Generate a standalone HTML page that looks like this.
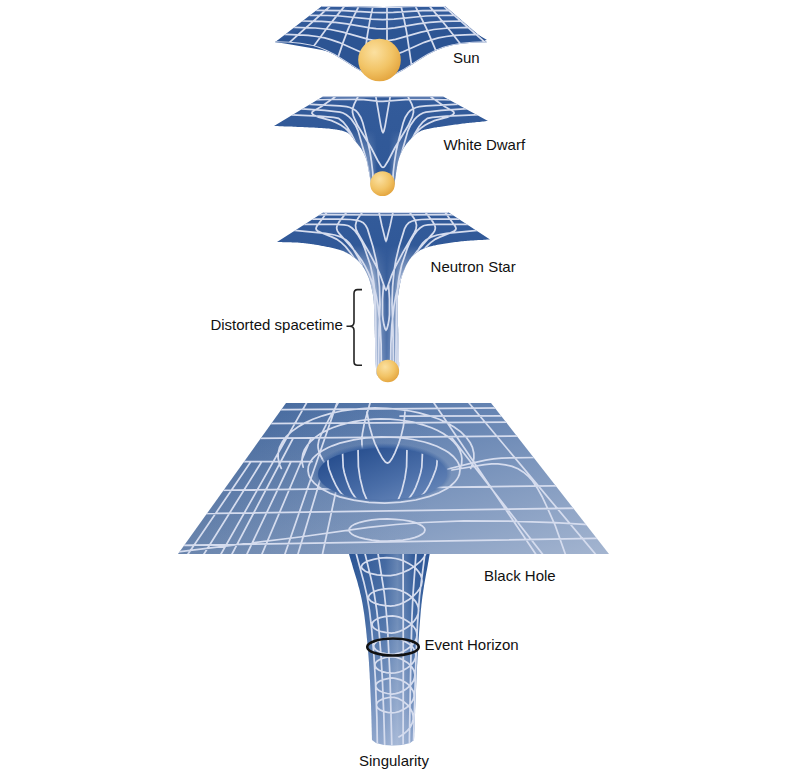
<!DOCTYPE html>
<html><head><meta charset="utf-8">
<style>
html,body{margin:0;padding:0;background:#fff;width:800px;height:780px;overflow:hidden}
svg{display:block}
text{font-family:"Liberation Sans",sans-serif;font-size:15px;fill:#111}
</style></head><body>
<svg width="800" height="780" viewBox="0 0 800 780">
<defs>
<radialGradient id="ball" cx="0.38" cy="0.32" r="0.7">
<stop offset="0" stop-color="#fbe0a0"/><stop offset="0.6" stop-color="#f2c466"/><stop offset="1" stop-color="#e4a640"/>
</radialGradient>
<clipPath id="cSun"><path d="M322,6 L275,42.2 L287.7,42.6 L300.4,43.7 L313.2,46.1 L321.6,48.8 L334.4,54.7 L355.5,68.1 L364,73 L372.5,76.4 L376.8,77.2 L381,77.6 L385.2,77.2 L389.5,76.4 L393.7,74.9 L402.2,70.7 L427.6,54.7 L436.1,50.5 L444.6,47.3 L453.1,45.1 L461.6,43.7 L474.3,42.6 L487,42.2 L445,6 L420.4,6.1 L383.5,7.1 L346.6,6.1 L322,6Z"/></clipPath>
<clipPath id="cWD"><path d="M323,96.5 L443,96.5 L488,121 L486.6,121.1 L485.2,121.3 L483.8,121.4 L482.4,121.6 L481,121.7 L479.7,121.9 L478.3,122 L476.9,122.1 L475.5,122.3 L474.1,122.4 L472.7,122.5 L471.3,122.7 L469.9,122.8 L468.5,123 L467.1,123.1 L465.7,123.3 L464.3,123.5 L462.9,123.6 L461.4,123.8 L460,124 L458.5,124.2 L457,124.4 L455.4,124.6 L453.8,124.8 L452.2,125 L450.6,125.3 L448.9,125.5 L447.3,125.7 L445.6,126 L444,126.2 L442.4,126.4 L440.8,126.7 L439.2,126.9 L437.7,127.1 L436.3,127.4 L434.9,127.6 L433.5,127.8 L432.3,128.1 L431.1,128.3 L430,128.5 L429,128.7 L428.1,128.9 L427.2,129.1 L426.4,129.3 L425.7,129.4 L425,129.6 L424.3,129.8 L423.8,129.9 L423.2,130.1 L422.7,130.2 L422.2,130.4 L421.7,130.6 L421.3,130.8 L420.8,131 L420.4,131.2 L419.9,131.4 L419.5,131.7 L419,131.9 L418.5,132.2 L418,132.5 L417.5,132.8 L417,133.2 L416.5,133.5 L416,133.9 L415.5,134.3 L415,134.7 L414.5,135.1 L414.1,135.6 L413.6,136 L413.2,136.4 L412.7,136.9 L412.3,137.3 L411.8,137.8 L411.4,138.3 L411,138.7 L410.6,139.2 L410.2,139.7 L409.8,140.1 L409.4,140.6 L409,141 L408.6,141.4 L408.2,141.9 L407.9,142.3 L407.5,142.8 L407.1,143.2 L406.8,143.6 L406.4,144.1 L406.1,144.5 L405.8,145 L405.4,145.4 L405.1,145.9 L404.8,146.3 L404.5,146.8 L404.2,147.2 L403.9,147.7 L403.6,148.1 L403.3,148.6 L403,149.1 L402.8,149.5 L402.5,150 L402.2,150.5 L402,151 L401.7,151.4 L401.5,151.9 L401.3,152.4 L401.1,152.9 L400.8,153.4 L400.6,153.9 L400.4,154.4 L400.2,154.9 L400,155.4 L399.8,156 L399.7,156.5 L399.5,157 L399.3,157.5 L399.1,158 L399,158.5 L398.8,159 L398.7,159.5 L398.5,160 L398.4,160.5 L398.2,161 L398.1,161.5 L398,162 L397.8,162.5 L397.7,163 L397.6,163.5 L397.5,164 L397.4,164.5 L397.3,165 L397.3,165.5 L397.2,166 L397.1,166.5 L397,167 L396.9,167.5 L396.8,168 L396.8,168.5 L396.7,169 L396.6,169.5 L396.5,170 L396.4,170.5 L396.3,171 L396.3,171.5 L396.2,172.1 L396.1,172.6 L396,173.1 L396,173.7 L395.9,174.2 L395.8,174.7 L395.8,175.2 L395.7,175.8 L395.6,176.3 L395.5,176.8 L395.5,177.3 L395.4,177.8 L395.3,178.3 L395.2,178.7 L395.2,179.2 L395.1,179.6 L395,180 L394.9,180.4 L394.9,180.8 L394.8,181.1 L394.8,181.5 L394.7,181.8 L394.7,182.2 L394.7,182.5 L394.6,182.8 L394.6,183.1 L394.6,183.4 L394.5,183.7 L394.4,183.9 L394.3,184.2 L394.2,184.5 L394.1,184.7 L394,185 L393.8,185.2 L393.5,185.5 L393.3,185.7 L393,186 L392.7,186.3 L392.3,186.5 L391.9,186.8 L391.4,187.1 L391,187.3 L390.5,187.6 L390,187.9 L389.4,188.1 L388.9,188.4 L388.3,188.6 L387.7,188.9 L387.1,189.1 L386.5,189.3 L385.9,189.5 L385.3,189.6 L384.7,189.7 L384.2,189.9 L383.6,189.9 L383,190 L382.5,190 L382,190 L381.4,189.9 L380.8,189.9 L380.3,189.7 L379.7,189.6 L379.1,189.5 L378.5,189.3 L377.9,189.1 L377.3,188.9 L376.7,188.6 L376.1,188.4 L375.6,188.1 L375,187.9 L374.5,187.6 L374,187.3 L373.5,187.1 L373.1,186.8 L372.7,186.5 L372.3,186.3 L372,186 L371.7,185.7 L371.5,185.5 L371.3,185.2 L371.1,185 L371,184.7 L370.9,184.5 L370.8,184.2 L370.8,183.9 L370.7,183.7 L370.7,183.4 L370.7,183.1 L370.7,182.8 L370.7,182.5 L370.7,182.2 L370.7,181.8 L370.7,181.5 L370.7,181.1 L370.6,180.8 L370.6,180.4 L370.5,180 L370.4,179.6 L370.3,179.2 L370.2,178.7 L370.1,178.3 L370,177.8 L369.9,177.3 L369.8,176.8 L369.7,176.3 L369.6,175.8 L369.5,175.2 L369.4,174.7 L369.3,174.2 L369.2,173.7 L369.1,173.1 L369,172.6 L368.9,172.1 L368.8,171.5 L368.7,171 L368.6,170.5 L368.5,170 L368.4,169.5 L368.3,169 L368.2,168.5 L368.1,168 L368.1,167.5 L368,167 L367.9,166.5 L367.8,166 L367.7,165.5 L367.7,165 L367.6,164.5 L367.5,164 L367.4,163.5 L367.3,163 L367.2,162.5 L367.1,162 L366.9,161.5 L366.8,161 L366.7,160.5 L366.5,160 L366.3,159.5 L366.2,159 L366,158.5 L365.8,158 L365.6,157.5 L365.4,157 L365.2,156.5 L365,156 L364.8,155.4 L364.6,154.9 L364.3,154.4 L364.1,153.9 L363.9,153.4 L363.6,152.9 L363.4,152.4 L363.1,151.9 L362.8,151.4 L362.6,151 L362.3,150.5 L362,150 L361.7,149.5 L361.4,149.1 L361.1,148.6 L360.8,148.1 L360.4,147.7 L360.1,147.2 L359.8,146.8 L359.4,146.3 L359.1,145.9 L358.7,145.4 L358.4,145 L358,144.5 L357.6,144.1 L357.3,143.6 L356.9,143.2 L356.5,142.8 L356.1,142.3 L355.8,141.9 L355.4,141.4 L355,141 L354.6,140.6 L354.3,140.1 L353.9,139.7 L353.6,139.2 L353.3,138.7 L353,138.3 L352.6,137.8 L352.3,137.3 L352,136.9 L351.6,136.4 L351.3,136 L350.9,135.5 L350.5,135.1 L350.1,134.7 L349.7,134.3 L349.2,133.9 L348.7,133.5 L348.2,133.2 L347.6,132.8 L347,132.5 L346.4,132.2 L345.7,131.9 L345.1,131.7 L344.4,131.4 L343.7,131.2 L343,131 L342.2,130.8 L341.5,130.6 L340.7,130.4 L339.9,130.2 L339,130 L338.2,129.9 L337.3,129.7 L336.3,129.6 L335.4,129.4 L334.4,129.3 L333.3,129.2 L332.3,129 L331.2,128.9 L330,128.8 L328.8,128.6 L327.5,128.5 L326.2,128.4 L324.8,128.3 L323.3,128.2 L321.8,128.1 L320.3,128 L318.7,127.9 L317.2,127.8 L315.6,127.7 L314,127.6 L312.3,127.5 L310.7,127.5 L309.1,127.4 L307.5,127.3 L306,127.3 L304.4,127.2 L302.9,127.1 L301.4,127.1 L300,127 L298.6,126.9 L297.2,126.9 L295.9,126.8 L294.5,126.8 L293.2,126.7 L291.9,126.6 L290.6,126.6 L289.3,126.5 L288,126.5 L286.8,126.5 L285.5,126.4 L284.2,126.4 L282.9,126.3 L281.7,126.3 L280.4,126.2 L279.1,126.2 L277.9,126.1 L276.6,126.1 L275.3,126 L274,126Z"/></clipPath>
<clipPath id="cNS"><path d="M324,212 L448,212 L490,239.4 L488.5,239.5 L487,239.6 L485.5,239.7 L484,239.8 L482.5,239.9 L481,239.9 L479.5,240 L478,240.1 L476.5,240.2 L475,240.3 L473.5,240.4 L472,240.5 L470.5,240.6 L469,240.7 L467.5,240.8 L466,240.9 L464.5,241 L463,241.2 L461.5,241.3 L460,241.5 L458.5,241.7 L456.9,241.9 L455.3,242.1 L453.7,242.3 L452.1,242.5 L450.5,242.7 L448.9,243 L447.2,243.2 L445.6,243.5 L444,243.7 L442.4,244 L440.8,244.3 L439.3,244.5 L437.8,244.8 L436.4,245.1 L435,245.4 L433.6,245.6 L432.4,245.9 L431.1,246.2 L430,246.5 L428.9,246.8 L427.9,247.1 L427,247.4 L426.1,247.7 L425.2,248 L424.4,248.3 L423.7,248.6 L423,248.9 L422.3,249.2 L421.6,249.5 L421,249.8 L420.4,250.1 L419.8,250.5 L419.3,250.8 L418.7,251.2 L418.2,251.5 L417.6,251.9 L417.1,252.2 L416.5,252.6 L416,253 L415.5,253.4 L414.9,253.8 L414.5,254.2 L414,254.6 L413.5,255 L413.1,255.4 L412.7,255.8 L412.3,256.2 L411.9,256.6 L411.5,257 L411.1,257.5 L410.8,257.9 L410.4,258.4 L410.1,258.9 L409.7,259.3 L409.4,259.8 L409,260.4 L408.7,260.9 L408.3,261.4 L408,262 L407.7,262.6 L407.3,263.2 L407,263.8 L406.6,264.5 L406.3,265.1 L406,265.8 L405.6,266.5 L405.3,267.2 L405,268 L404.7,268.7 L404.4,269.4 L404.1,270.2 L403.8,270.9 L403.5,271.6 L403.2,272.4 L403,273.1 L402.7,273.9 L402.5,274.6 L402.2,275.3 L402,276 L401.8,276.7 L401.6,277.4 L401.4,278.1 L401.2,278.8 L401,279.5 L400.8,280.2 L400.7,280.9 L400.5,281.6 L400.4,282.2 L400.2,282.9 L400.1,283.6 L399.9,284.3 L399.8,285 L399.7,285.7 L399.6,286.4 L399.5,287.1 L399.3,287.8 L399.2,288.6 L399.1,289.3 L399,290 L398.9,290.7 L398.8,291.4 L398.7,292 L398.6,292.6 L398.5,293.2 L398.4,293.8 L398.3,294.4 L398.2,295 L398.1,295.6 L398,296.2 L397.9,296.8 L397.8,297.5 L397.8,298.2 L397.7,299 L397.7,299.8 L397.6,300.7 L397.6,301.7 L397.5,302.7 L397.5,303.8 L397.5,305 L397.5,306.3 L397.5,307.7 L397.5,309.2 L397.5,310.8 L397.6,312.5 L397.6,314.3 L397.7,316 L397.7,317.9 L397.8,319.8 L397.9,321.7 L397.9,323.6 L398,325.5 L398.1,327.5 L398.2,329.4 L398.2,331.3 L398.3,333.1 L398.4,334.9 L398.4,336.7 L398.5,338.4 L398.5,340 L398.5,341.6 L398.6,343.2 L398.6,344.8 L398.7,346.4 L398.7,348 L398.8,349.5 L398.8,351.1 L398.9,352.7 L398.9,354.2 L398.9,355.7 L399,357.2 L399,358.6 L399,360 L399,361.3 L399.1,362.6 L399.1,363.8 L399.1,365 L399.1,366 L399,367.1 L399,368 L399,368.9 L398.9,369.6 L398.9,370.3 L398.9,370.9 L398.9,371.5 L398.8,372 L398.8,372.4 L398.7,372.8 L398.7,373.2 L398.6,373.5 L398.5,373.8 L398.5,374 L398.4,374.3 L398.2,374.5 L398.1,374.8 L397.9,375 L397.7,375.2 L397.5,375.5 L397.3,375.7 L397,376 L396.7,376.3 L396.4,376.6 L396,376.9 L395.6,377.2 L395.2,377.5 L394.7,377.7 L394.2,378 L393.7,378.3 L393.2,378.5 L392.7,378.8 L392.2,379 L391.7,379.2 L391.1,379.4 L390.6,379.5 L390.1,379.7 L389.5,379.8 L389,379.9 L388.5,379.9 L388,380 L387.5,380 L387,380 L386.5,379.9 L386,379.9 L385.5,379.8 L384.9,379.7 L384.4,379.5 L383.9,379.4 L383.3,379.2 L382.8,379 L382.3,378.8 L381.8,378.5 L381.3,378.3 L380.8,378 L380.3,377.7 L379.8,377.5 L379.4,377.2 L379,376.9 L378.6,376.6 L378.3,376.3 L378,376 L377.7,375.7 L377.5,375.5 L377.3,375.2 L377.1,375 L376.9,374.8 L376.8,374.5 L376.7,374.3 L376.6,374 L376.5,373.8 L376.5,373.5 L376.4,373.2 L376.4,372.8 L376.3,372.4 L376.3,372 L376.3,371.5 L376.2,370.9 L376.2,370.3 L376.1,369.6 L376.1,368.9 L376,368 L375.9,367.1 L375.9,366 L375.8,365 L375.7,363.8 L375.7,362.6 L375.6,361.3 L375.6,360 L375.5,358.6 L375.5,357.2 L375.4,355.7 L375.4,354.2 L375.4,352.7 L375.3,351.1 L375.3,349.5 L375.2,348 L375.2,346.4 L375.1,344.8 L375.1,343.2 L375,341.6 L375,340 L375,338.4 L374.9,336.7 L374.9,334.9 L374.8,333.1 L374.8,331.3 L374.7,329.4 L374.7,327.5 L374.6,325.5 L374.6,323.6 L374.6,321.7 L374.5,319.8 L374.5,317.9 L374.4,316 L374.4,314.3 L374.3,312.5 L374.3,310.8 L374.2,309.2 L374.1,307.7 L374.1,306.3 L374,305 L373.9,303.8 L373.8,302.7 L373.8,301.7 L373.7,300.7 L373.6,299.8 L373.5,299 L373.5,298.2 L373.4,297.5 L373.3,296.8 L373.2,296.2 L373.1,295.6 L373,295 L372.9,294.4 L372.8,293.8 L372.7,293.2 L372.5,292.6 L372.4,292 L372.3,291.4 L372.1,290.7 L372,290 L371.8,289.3 L371.7,288.6 L371.5,287.8 L371.4,287.1 L371.2,286.4 L371,285.7 L370.9,284.9 L370.7,284.2 L370.5,283.5 L370.3,282.8 L370.1,282.1 L369.9,281.4 L369.7,280.7 L369.5,280 L369.3,279.3 L369,278.7 L368.8,278 L368.5,277.3 L368.3,276.7 L368,276 L367.7,275.4 L367.4,274.7 L367.1,274.1 L366.8,273.4 L366.5,272.8 L366.2,272.1 L365.9,271.5 L365.5,270.9 L365.2,270.2 L364.8,269.6 L364.5,269 L364.1,268.4 L363.7,267.8 L363.3,267.2 L363,266.7 L362.6,266.1 L362.2,265.6 L361.8,265 L361.4,264.5 L361,264 L360.6,263.5 L360.2,263 L359.8,262.6 L359.4,262.1 L359,261.7 L358.5,261.2 L358.1,260.8 L357.7,260.4 L357.3,260 L356.8,259.6 L356.4,259.2 L355.9,258.9 L355.5,258.5 L355,258.1 L354.5,257.8 L354,257.4 L353.5,257.1 L353,256.7 L352.5,256.4 L352,256 L351.5,255.7 L351,255.3 L350.4,255 L349.9,254.6 L349.4,254.3 L348.9,254 L348.3,253.7 L347.8,253.4 L347.2,253.1 L346.7,252.8 L346.1,252.5 L345.5,252.2 L344.9,251.9 L344.3,251.6 L343.6,251.3 L343,251.1 L342.3,250.8 L341.5,250.5 L340.8,250.3 L340,250 L339.2,249.7 L338.3,249.5 L337.4,249.2 L336.5,249 L335.6,248.7 L334.6,248.5 L333.6,248.2 L332.6,248 L331.5,247.8 L330.5,247.5 L329.4,247.3 L328.4,247.1 L327.3,246.9 L326.3,246.7 L325.2,246.5 L324.1,246.3 L323.1,246.1 L322,245.9 L321,245.7 L320,245.5 L319,245.3 L318,245.1 L317,245 L316,244.8 L315.1,244.7 L314.1,244.5 L313.1,244.3 L312.1,244.2 L311.2,244.1 L310.2,243.9 L309.2,243.8 L308.2,243.7 L307.2,243.5 L306.2,243.4 L305.2,243.3 L304.2,243.2 L303.2,243.1 L302.1,243 L301.1,242.9 L300,242.8 L298.9,242.7 L297.8,242.6 L296.7,242.6 L295.6,242.5 L294.5,242.5 L293.3,242.4 L292.2,242.4 L291,242.3 L289.9,242.3 L288.7,242.3 L287.5,242.3 L286.3,242.2 L285.2,242.2 L284,242.2 L282.8,242.2 L281.6,242.1 L280.5,242.1 L279.3,242.1 L278.2,242 L277,242Z"/></clipPath>
<clipPath id="cTube"><path d="M349,554 L349.6,556.3 L350.3,558.6 L351,560.9 L351.7,563.1 L352.4,565.4 L353,567.7 L353.7,569.9 L354.4,572.2 L355.1,574.5 L355.8,576.8 L356.5,579 L357.2,581.3 L357.8,583.6 L358.4,585.9 L359.1,588.2 L359.7,590.5 L360.2,592.9 L360.8,595.2 L361.3,597.6 L361.8,600 L362.3,602.4 L362.7,604.8 L363.1,607.3 L363.5,609.7 L363.9,612.2 L364.3,614.7 L364.6,617.2 L364.9,619.7 L365.2,622.2 L365.5,624.8 L365.8,627.3 L366.1,629.8 L366.3,632.3 L366.6,634.9 L366.8,637.4 L367.1,639.9 L367.3,642.5 L367.5,645 L367.8,647.5 L368,650 L368.2,652.5 L368.4,655 L368.6,657.6 L368.8,660.2 L369,662.7 L369.1,665.3 L369.3,667.9 L369.4,670.5 L369.6,673.1 L369.7,675.6 L369.8,678.2 L370,680.7 L370.1,683.2 L370.2,685.7 L370.3,688.2 L370.4,690.6 L370.5,693 L370.6,695.4 L370.7,697.7 L370.8,700 L370.9,702.2 L371,704.4 L371.1,706.5 L371.1,708.6 L371.2,710.7 L371.3,712.7 L371.3,714.7 L371.4,716.7 L371.4,718.7 L371.5,720.6 L371.5,722.6 L371.6,724.5 L371.6,726.4 L371.7,728.3 L371.7,730.2 L371.8,732.2 L371.8,734.1 L371.9,736 L371.9,738 L372,740 L376,743 L384,745 L393,745.5 L402,745 L410,743 L414,740 L414.1,738 L414.2,736 L414.2,734.1 L414.3,732.2 L414.4,730.2 L414.5,728.3 L414.5,726.4 L414.6,724.5 L414.7,722.6 L414.8,720.6 L414.8,718.7 L414.9,716.7 L415,714.7 L415.1,712.7 L415.1,710.7 L415.2,708.6 L415.3,706.5 L415.4,704.4 L415.5,702.2 L415.6,700 L415.7,697.7 L415.8,695.4 L415.9,693 L416,690.6 L416.1,688.2 L416.2,685.7 L416.3,683.2 L416.4,680.7 L416.5,678.2 L416.6,675.6 L416.8,673.1 L416.9,670.5 L417,667.9 L417.1,665.3 L417.3,662.7 L417.4,660.2 L417.5,657.6 L417.7,655 L417.8,652.5 L418,650 L418.2,647.5 L418.3,645 L418.5,642.5 L418.6,639.9 L418.8,637.4 L419,634.9 L419.1,632.3 L419.3,629.8 L419.5,627.3 L419.7,624.8 L419.9,622.2 L420.1,619.7 L420.3,617.2 L420.5,614.7 L420.7,612.2 L420.9,609.7 L421.2,607.3 L421.4,604.8 L421.7,602.4 L422,600 L422.3,597.6 L422.6,595.2 L423,592.9 L423.3,590.5 L423.7,588.2 L424,585.9 L424.4,583.6 L424.8,581.3 L425.2,579 L425.6,576.8 L426,574.5 L426.4,572.2 L426.9,569.9 L427.3,567.7 L427.7,565.4 L428.1,563.1 L428.5,560.9 L428.9,558.6 L429.3,556.3 L429.7,554Z"/></clipPath>
<clipPath id="cBH"><path d="M286,403 L491,403 L609,554 L178,554 Z"/></clipPath>
<clipPath id="cHole"><path d="M318,474 A64.5,26 0 1,0 447,474 A64.5,26 0 1,0 318,474 Z"/></clipPath>
<linearGradient id="gSun" x1="0" y1="0" x2="0" y2="1"><stop offset="0" stop-color="#345c9b"/><stop offset="1" stop-color="#2b5393"/></linearGradient>
<linearGradient id="gWD" x1="0" y1="0" x2="0" y2="1"><stop offset="0" stop-color="#335b9a"/><stop offset="1" stop-color="#2f5796"/></linearGradient>
<linearGradient id="gNS" gradientUnits="userSpaceOnUse" x1="0" y1="212" x2="0" y2="380"><stop offset="0" stop-color="#335b9a"/><stop offset="0.5" stop-color="#2d5595"/><stop offset="1" stop-color="#4a6ea8"/></linearGradient>
<linearGradient id="gWDs" gradientUnits="userSpaceOnUse" x1="368" y1="0" x2="398" y2="0"><stop offset="0" stop-color="#dfe7f5" stop-opacity="0.6"/><stop offset="0.3" stop-color="#dfe7f5" stop-opacity="0"/><stop offset="0.7" stop-color="#dfe7f5" stop-opacity="0"/><stop offset="1" stop-color="#dfe7f5" stop-opacity="0.6"/></linearGradient>
<linearGradient id="gNSs" gradientUnits="userSpaceOnUse" x1="373.5" y1="0" x2="400" y2="0"><stop offset="0" stop-color="#eef2fa" stop-opacity="1"/><stop offset="0.22" stop-color="#eef2fa" stop-opacity="0.35"/><stop offset="0.5" stop-color="#eef2fa" stop-opacity="0.1"/><stop offset="0.78" stop-color="#eef2fa" stop-opacity="0.35"/><stop offset="1" stop-color="#eef2fa" stop-opacity="1"/></linearGradient>
<linearGradient id="gVfadeWD" gradientUnits="userSpaceOnUse" x1="0" y1="130" x2="0" y2="180"><stop offset="0" stop-color="#fff" stop-opacity="0"/><stop offset="1" stop-color="#fff" stop-opacity="1"/></linearGradient>
<mask id="mWD" maskUnits="userSpaceOnUse" x="0" y="0" width="800" height="780"><rect x="340" y="110" width="90" height="90" fill="url(#gVfadeWD)"/></mask>
<linearGradient id="gVfadeNS" gradientUnits="userSpaceOnUse" x1="0" y1="245" x2="0" y2="305"><stop offset="0" stop-color="#fff" stop-opacity="0"/><stop offset="1" stop-color="#fff" stop-opacity="1"/></linearGradient>
<mask id="mNS" maskUnits="userSpaceOnUse" x="0" y="0" width="800" height="780"><rect x="340" y="240" width="100" height="145" fill="url(#gVfadeNS)"/></mask>
<linearGradient id="gBH" x1="0" y1="0" x2="1" y2="1"><stop offset="0" stop-color="#3f66a0"/><stop offset="1" stop-color="#a4b5d0"/></linearGradient>
<linearGradient id="gTube" gradientUnits="userSpaceOnUse" x1="0" y1="554" x2="0" y2="750"><stop offset="0" stop-color="#2a5494"/><stop offset="0.35" stop-color="#3b64a0"/><stop offset="1" stop-color="#8aa2ca"/></linearGradient>
<linearGradient id="gTubeH" x1="0" y1="0" x2="1" y2="0"><stop offset="0" stop-color="#fff" stop-opacity="0"/><stop offset="0.45" stop-color="#fff" stop-opacity="0.12"/><stop offset="0.6" stop-color="#fff" stop-opacity="0.28"/><stop offset="0.8" stop-color="#fff" stop-opacity="0.05"/><stop offset="1" stop-color="#fff" stop-opacity="0"/></linearGradient>
<linearGradient id="gBH2" x1="0" y1="0" x2="1" y2="0"><stop offset="0" stop-color="#234" stop-opacity="0.10"/><stop offset="0.6" stop-color="#234" stop-opacity="0"/></linearGradient>
<radialGradient id="gRim" cx="0.5" cy="0.5" r="0.5"><stop offset="0.85" stop-color="#3b62a0"/><stop offset="1" stop-color="#3b62a0" stop-opacity="0"/></radialGradient>
<linearGradient id="gHole" x1="0" y1="0" x2="1" y2="1"><stop offset="0" stop-color="#1d4587"/><stop offset="0.6" stop-color="#4a6ea8"/><stop offset="1" stop-color="#6f8dbd"/></linearGradient>
</defs>
<path d="M322,6 L275,42.2 L287.7,42.6 L300.4,43.7 L313.2,46.1 L321.6,48.8 L334.4,54.7 L355.5,68.1 L364,73 L372.5,76.4 L376.8,77.2 L381,77.6 L385.2,77.2 L389.5,76.4 L393.7,74.9 L402.2,70.7 L427.6,54.7 L436.1,50.5 L444.6,47.3 L453.1,45.1 L461.6,43.7 L474.3,42.6 L487,42.2 L445,6 L420.4,6.1 L383.5,7.1 L346.6,6.1 L322,6Z" fill="url(#gSun)"/>
<path d="M275,42 C290,44 305,47 322,50 C335,53 343,58 349,63 C353,67 356,69 360,69 L380,66 L400,69 C404,69 407,67 411,63 C418,57 430,50 445,46 C460,42 475,41 487,40 L470,30 L300,30 Z" fill="#2c5493"/>
<path d="M264.9,42.1 L316.1,6M289.3,42.7 L330.3,6M313.7,46.2 L328.5,26.1 L344.5,6.1M338.2,56.9 L343.1,42.4 L347.9,29.6 L353,17.9 L358.7,6.5M362.6,72.2 L365.1,51.5 L367.5,34.4 L370,19.9 L372.8,6.9M387,76.9 L387,7.1M411.5,64.9 L406.6,32.1 L404,19 L401.2,6.7M435.9,50.6 L426.1,27.6 L415.4,6.3M460.3,43.8 L445.6,25.3 L429.5,6.1M484.8,42.2 L443.7,6M322,6 L347.3,6.2 L383.3,7.1 L419.7,6.2 L445,6M316.4,10.3 L343.8,10.7 L373,12.3 L383,12.6 L393.4,12.3 L422.6,10.7 L450,10.3M309.8,15.3 L327.4,15.5 L339.8,16 L371.7,19.1 L382.7,19.6 L394,19.1 L425.9,16 L438.3,15.5 L455.9,15.3M302.4,21 L321.7,21.4 L335.3,22.3 L347,23.8 L370.2,27.9 L376.2,28.6 L382.3,28.8 L388.3,28.6 L394.7,27.9 L418,23.8 L429.6,22.3 L443.2,21.4 L462.5,21M294.2,27.4 L315.3,28 L330.3,29.5 L343,32.2 L368.6,39.4 L375.2,40.5 L381.8,41 L388.4,40.6 L395.5,39.4 L421,32.2 L433.8,29.5 L448.7,28 L469.9,27.4M285,34.4 L298.1,34.8 L308.2,35.4 L316.9,36.5 L324.7,37.9 L331.5,39.8 L338.7,42.3 L360,51.7 L366.8,54.3 L374,56.2 L381.3,56.9 L388.5,56.3 L396.3,54.3 L403.1,51.7 L424.3,42.3 L431.6,39.8 L438.4,37.9 L446.1,36.5 L454.8,35.4 L465,34.8 L478,34.4M275,42.2 L289.3,42.7 L300.5,43.7 L310.1,45.3 L318.6,47.7 L326.5,50.8 L334.5,54.8 L341.4,58.9 L357.4,69.2 L364.8,73.4 L372.8,76.4 L377,77.3 L380.7,77.5 L384.5,77.3 L388.7,76.5 L392.4,75.4 L396.7,73.6 L404.6,69.2 L420.6,58.9 L428,54.5 L436,50.5 L443.4,47.7 L451.9,45.3 L461.5,43.7 L472.7,42.7 L487,42.2" fill="none" stroke="#d5dcee" stroke-width="1.75" stroke-linecap="round" clip-path="url(#cSun)"/>
<circle cx="379.5" cy="60" r="21.3" fill="url(#ball)"/>
<text x="453" y="63">Sun</text>
<path d="M323,96.5 L443,96.5 L488,121 L486.6,121.1 L485.2,121.3 L483.8,121.4 L482.4,121.6 L481,121.7 L479.7,121.9 L478.3,122 L476.9,122.1 L475.5,122.3 L474.1,122.4 L472.7,122.5 L471.3,122.7 L469.9,122.8 L468.5,123 L467.1,123.1 L465.7,123.3 L464.3,123.5 L462.9,123.6 L461.4,123.8 L460,124 L458.5,124.2 L457,124.4 L455.4,124.6 L453.8,124.8 L452.2,125 L450.6,125.3 L448.9,125.5 L447.3,125.7 L445.6,126 L444,126.2 L442.4,126.4 L440.8,126.7 L439.2,126.9 L437.7,127.1 L436.3,127.4 L434.9,127.6 L433.5,127.8 L432.3,128.1 L431.1,128.3 L430,128.5 L429,128.7 L428.1,128.9 L427.2,129.1 L426.4,129.3 L425.7,129.4 L425,129.6 L424.3,129.8 L423.8,129.9 L423.2,130.1 L422.7,130.2 L422.2,130.4 L421.7,130.6 L421.3,130.8 L420.8,131 L420.4,131.2 L419.9,131.4 L419.5,131.7 L419,131.9 L418.5,132.2 L418,132.5 L417.5,132.8 L417,133.2 L416.5,133.5 L416,133.9 L415.5,134.3 L415,134.7 L414.5,135.1 L414.1,135.6 L413.6,136 L413.2,136.4 L412.7,136.9 L412.3,137.3 L411.8,137.8 L411.4,138.3 L411,138.7 L410.6,139.2 L410.2,139.7 L409.8,140.1 L409.4,140.6 L409,141 L408.6,141.4 L408.2,141.9 L407.9,142.3 L407.5,142.8 L407.1,143.2 L406.8,143.6 L406.4,144.1 L406.1,144.5 L405.8,145 L405.4,145.4 L405.1,145.9 L404.8,146.3 L404.5,146.8 L404.2,147.2 L403.9,147.7 L403.6,148.1 L403.3,148.6 L403,149.1 L402.8,149.5 L402.5,150 L402.2,150.5 L402,151 L401.7,151.4 L401.5,151.9 L401.3,152.4 L401.1,152.9 L400.8,153.4 L400.6,153.9 L400.4,154.4 L400.2,154.9 L400,155.4 L399.8,156 L399.7,156.5 L399.5,157 L399.3,157.5 L399.1,158 L399,158.5 L398.8,159 L398.7,159.5 L398.5,160 L398.4,160.5 L398.2,161 L398.1,161.5 L398,162 L397.8,162.5 L397.7,163 L397.6,163.5 L397.5,164 L397.4,164.5 L397.3,165 L397.3,165.5 L397.2,166 L397.1,166.5 L397,167 L396.9,167.5 L396.8,168 L396.8,168.5 L396.7,169 L396.6,169.5 L396.5,170 L396.4,170.5 L396.3,171 L396.3,171.5 L396.2,172.1 L396.1,172.6 L396,173.1 L396,173.7 L395.9,174.2 L395.8,174.7 L395.8,175.2 L395.7,175.8 L395.6,176.3 L395.5,176.8 L395.5,177.3 L395.4,177.8 L395.3,178.3 L395.2,178.7 L395.2,179.2 L395.1,179.6 L395,180 L394.9,180.4 L394.9,180.8 L394.8,181.1 L394.8,181.5 L394.7,181.8 L394.7,182.2 L394.7,182.5 L394.6,182.8 L394.6,183.1 L394.6,183.4 L394.5,183.7 L394.4,183.9 L394.3,184.2 L394.2,184.5 L394.1,184.7 L394,185 L393.8,185.2 L393.5,185.5 L393.3,185.7 L393,186 L392.7,186.3 L392.3,186.5 L391.9,186.8 L391.4,187.1 L391,187.3 L390.5,187.6 L390,187.9 L389.4,188.1 L388.9,188.4 L388.3,188.6 L387.7,188.9 L387.1,189.1 L386.5,189.3 L385.9,189.5 L385.3,189.6 L384.7,189.7 L384.2,189.9 L383.6,189.9 L383,190 L382.5,190 L382,190 L381.4,189.9 L380.8,189.9 L380.3,189.7 L379.7,189.6 L379.1,189.5 L378.5,189.3 L377.9,189.1 L377.3,188.9 L376.7,188.6 L376.1,188.4 L375.6,188.1 L375,187.9 L374.5,187.6 L374,187.3 L373.5,187.1 L373.1,186.8 L372.7,186.5 L372.3,186.3 L372,186 L371.7,185.7 L371.5,185.5 L371.3,185.2 L371.1,185 L371,184.7 L370.9,184.5 L370.8,184.2 L370.8,183.9 L370.7,183.7 L370.7,183.4 L370.7,183.1 L370.7,182.8 L370.7,182.5 L370.7,182.2 L370.7,181.8 L370.7,181.5 L370.7,181.1 L370.6,180.8 L370.6,180.4 L370.5,180 L370.4,179.6 L370.3,179.2 L370.2,178.7 L370.1,178.3 L370,177.8 L369.9,177.3 L369.8,176.8 L369.7,176.3 L369.6,175.8 L369.5,175.2 L369.4,174.7 L369.3,174.2 L369.2,173.7 L369.1,173.1 L369,172.6 L368.9,172.1 L368.8,171.5 L368.7,171 L368.6,170.5 L368.5,170 L368.4,169.5 L368.3,169 L368.2,168.5 L368.1,168 L368.1,167.5 L368,167 L367.9,166.5 L367.8,166 L367.7,165.5 L367.7,165 L367.6,164.5 L367.5,164 L367.4,163.5 L367.3,163 L367.2,162.5 L367.1,162 L366.9,161.5 L366.8,161 L366.7,160.5 L366.5,160 L366.3,159.5 L366.2,159 L366,158.5 L365.8,158 L365.6,157.5 L365.4,157 L365.2,156.5 L365,156 L364.8,155.4 L364.6,154.9 L364.3,154.4 L364.1,153.9 L363.9,153.4 L363.6,152.9 L363.4,152.4 L363.1,151.9 L362.8,151.4 L362.6,151 L362.3,150.5 L362,150 L361.7,149.5 L361.4,149.1 L361.1,148.6 L360.8,148.1 L360.4,147.7 L360.1,147.2 L359.8,146.8 L359.4,146.3 L359.1,145.9 L358.7,145.4 L358.4,145 L358,144.5 L357.6,144.1 L357.3,143.6 L356.9,143.2 L356.5,142.8 L356.1,142.3 L355.8,141.9 L355.4,141.4 L355,141 L354.6,140.6 L354.3,140.1 L353.9,139.7 L353.6,139.2 L353.3,138.7 L353,138.3 L352.6,137.8 L352.3,137.3 L352,136.9 L351.6,136.4 L351.3,136 L350.9,135.5 L350.5,135.1 L350.1,134.7 L349.7,134.3 L349.2,133.9 L348.7,133.5 L348.2,133.2 L347.6,132.8 L347,132.5 L346.4,132.2 L345.7,131.9 L345.1,131.7 L344.4,131.4 L343.7,131.2 L343,131 L342.2,130.8 L341.5,130.6 L340.7,130.4 L339.9,130.2 L339,130 L338.2,129.9 L337.3,129.7 L336.3,129.6 L335.4,129.4 L334.4,129.3 L333.3,129.2 L332.3,129 L331.2,128.9 L330,128.8 L328.8,128.6 L327.5,128.5 L326.2,128.4 L324.8,128.3 L323.3,128.2 L321.8,128.1 L320.3,128 L318.7,127.9 L317.2,127.8 L315.6,127.7 L314,127.6 L312.3,127.5 L310.7,127.5 L309.1,127.4 L307.5,127.3 L306,127.3 L304.4,127.2 L302.9,127.1 L301.4,127.1 L300,127 L298.6,126.9 L297.2,126.9 L295.9,126.8 L294.5,126.8 L293.2,126.7 L291.9,126.6 L290.6,126.6 L289.3,126.5 L288,126.5 L286.8,126.5 L285.5,126.4 L284.2,126.4 L282.9,126.3 L281.7,126.3 L280.4,126.2 L279.1,126.2 L277.9,126.1 L276.6,126.1 L275.3,126 L274,126Z" fill="url(#gWD)"/>
<g clip-path="url(#cWD)"><rect x="340" y="110" width="90" height="90" fill="url(#gWDs)" mask="url(#mWD)"/></g>
<path d="M310,100 L328.8,99.5 L355.8,99.4 L363.8,99.7 L377.4,101.1 L383,101.3 L408.8,99.4 L437.1,99.5 L452,100M375.8,96.4 L380.9,126.1 L382.2,131.3 L383,132.5 L383.8,131.3 L385.1,126.1 L390.2,96.4M358.2,96.4 L354.2,104.2 L352.6,109 L352.5,112.2 L353.6,116.7 L358,126 L371.3,148 L377.7,160.5 L381.1,166 L382,167 L383,167.3 L384,167 L384.9,166 L388.3,160.5 L394.7,148 L408,126 L412.4,116.7 L413.5,112.2 L413.4,109 L411.8,104.2 L407.8,96.4M306,104.2 L339.8,105.9 L346.7,106.7 L350,107.5 L353.3,108.9 L355.9,110.7 L358,113 L360.8,117.5 L362.8,122.8 L367.3,139.9 L369.8,151 L371.4,161 L372.7,172 L374,195M460,104.2 L426.2,105.9 L419.3,106.7 L416,107.5 L412.7,108.9 L410.1,110.7 L408,113 L405.2,117.5 L403.2,122.8 L398.7,139.9 L396.2,151 L394.6,161 L393.3,172 L392,195M298,108.7 L324.7,110.4 L340.1,112.1 L343.1,113 L346.3,114.8 L349.3,117.1 L351.5,119.4 L355.5,125.2 L358.1,130.8 L365.7,157.7 L368.6,171.7 L371.5,195M468,108.7 L441.3,110.4 L425.9,112.1 L422.9,113 L419.7,114.8 L416.7,117.1 L414.5,119.4 L410.5,125.2 L407.9,130.8 L400.3,157.7 L397.4,171.7 L394.5,195M286,114.7 L319.2,116.2 L333.6,117.4 L338.5,118.4 L343.1,122 L347.2,127 L351.5,134.2 L354.6,140.6 L358.6,150.9 L363,164 L365.8,174 L367.1,181 L369,195M480,114.7 L446.8,116.2 L432.4,117.4 L427.5,118.4 L422.9,122 L418.8,127 L414.5,134.2 L411.4,140.6 L407.4,150.9 L403,164 L400.2,174 L398.9,181 L397,195M336,96.4 L321.4,106.4 L313.3,111.1 L312.1,112.2 L312,113.5 L313.7,115.1 L318.6,117.2 L331.6,120.7 L337.3,123.2 L341.1,125.3 L344.6,127.7 L347.8,130.7 L350.1,133.5 L352.6,137.6 L355.3,143.2 L359.1,152.8 L361.6,160.5 L364.7,173.5 L368,195M430,96.4 L444.6,106.4 L452.7,111.1 L453.9,112.2 L454,113.5 L452.3,115.1 L447.4,117.2 L434.4,120.7 L428.7,123.2 L424.9,125.3 L421.4,127.7 L418.2,130.7 L415.9,133.5 L413.4,137.6 L410.7,143.2 L406.9,152.8 L404.4,160.5 L401.3,173.5 L398,195M307,96.4 L443,96.4" fill="none" stroke="#d5dcee" stroke-width="1.75" stroke-linecap="round" clip-path="url(#cWD)"/>
<circle cx="382.5" cy="183.7" r="12.4" fill="url(#ball)"/>
<text x="443.4" y="150.4">White Dwarf</text>
<path d="M324,212 L448,212 L490,239.4 L488.5,239.5 L487,239.6 L485.5,239.7 L484,239.8 L482.5,239.9 L481,239.9 L479.5,240 L478,240.1 L476.5,240.2 L475,240.3 L473.5,240.4 L472,240.5 L470.5,240.6 L469,240.7 L467.5,240.8 L466,240.9 L464.5,241 L463,241.2 L461.5,241.3 L460,241.5 L458.5,241.7 L456.9,241.9 L455.3,242.1 L453.7,242.3 L452.1,242.5 L450.5,242.7 L448.9,243 L447.2,243.2 L445.6,243.5 L444,243.7 L442.4,244 L440.8,244.3 L439.3,244.5 L437.8,244.8 L436.4,245.1 L435,245.4 L433.6,245.6 L432.4,245.9 L431.1,246.2 L430,246.5 L428.9,246.8 L427.9,247.1 L427,247.4 L426.1,247.7 L425.2,248 L424.4,248.3 L423.7,248.6 L423,248.9 L422.3,249.2 L421.6,249.5 L421,249.8 L420.4,250.1 L419.8,250.5 L419.3,250.8 L418.7,251.2 L418.2,251.5 L417.6,251.9 L417.1,252.2 L416.5,252.6 L416,253 L415.5,253.4 L414.9,253.8 L414.5,254.2 L414,254.6 L413.5,255 L413.1,255.4 L412.7,255.8 L412.3,256.2 L411.9,256.6 L411.5,257 L411.1,257.5 L410.8,257.9 L410.4,258.4 L410.1,258.9 L409.7,259.3 L409.4,259.8 L409,260.4 L408.7,260.9 L408.3,261.4 L408,262 L407.7,262.6 L407.3,263.2 L407,263.8 L406.6,264.5 L406.3,265.1 L406,265.8 L405.6,266.5 L405.3,267.2 L405,268 L404.7,268.7 L404.4,269.4 L404.1,270.2 L403.8,270.9 L403.5,271.6 L403.2,272.4 L403,273.1 L402.7,273.9 L402.5,274.6 L402.2,275.3 L402,276 L401.8,276.7 L401.6,277.4 L401.4,278.1 L401.2,278.8 L401,279.5 L400.8,280.2 L400.7,280.9 L400.5,281.6 L400.4,282.2 L400.2,282.9 L400.1,283.6 L399.9,284.3 L399.8,285 L399.7,285.7 L399.6,286.4 L399.5,287.1 L399.3,287.8 L399.2,288.6 L399.1,289.3 L399,290 L398.9,290.7 L398.8,291.4 L398.7,292 L398.6,292.6 L398.5,293.2 L398.4,293.8 L398.3,294.4 L398.2,295 L398.1,295.6 L398,296.2 L397.9,296.8 L397.8,297.5 L397.8,298.2 L397.7,299 L397.7,299.8 L397.6,300.7 L397.6,301.7 L397.5,302.7 L397.5,303.8 L397.5,305 L397.5,306.3 L397.5,307.7 L397.5,309.2 L397.5,310.8 L397.6,312.5 L397.6,314.3 L397.7,316 L397.7,317.9 L397.8,319.8 L397.9,321.7 L397.9,323.6 L398,325.5 L398.1,327.5 L398.2,329.4 L398.2,331.3 L398.3,333.1 L398.4,334.9 L398.4,336.7 L398.5,338.4 L398.5,340 L398.5,341.6 L398.6,343.2 L398.6,344.8 L398.7,346.4 L398.7,348 L398.8,349.5 L398.8,351.1 L398.9,352.7 L398.9,354.2 L398.9,355.7 L399,357.2 L399,358.6 L399,360 L399,361.3 L399.1,362.6 L399.1,363.8 L399.1,365 L399.1,366 L399,367.1 L399,368 L399,368.9 L398.9,369.6 L398.9,370.3 L398.9,370.9 L398.9,371.5 L398.8,372 L398.8,372.4 L398.7,372.8 L398.7,373.2 L398.6,373.5 L398.5,373.8 L398.5,374 L398.4,374.3 L398.2,374.5 L398.1,374.8 L397.9,375 L397.7,375.2 L397.5,375.5 L397.3,375.7 L397,376 L396.7,376.3 L396.4,376.6 L396,376.9 L395.6,377.2 L395.2,377.5 L394.7,377.7 L394.2,378 L393.7,378.3 L393.2,378.5 L392.7,378.8 L392.2,379 L391.7,379.2 L391.1,379.4 L390.6,379.5 L390.1,379.7 L389.5,379.8 L389,379.9 L388.5,379.9 L388,380 L387.5,380 L387,380 L386.5,379.9 L386,379.9 L385.5,379.8 L384.9,379.7 L384.4,379.5 L383.9,379.4 L383.3,379.2 L382.8,379 L382.3,378.8 L381.8,378.5 L381.3,378.3 L380.8,378 L380.3,377.7 L379.8,377.5 L379.4,377.2 L379,376.9 L378.6,376.6 L378.3,376.3 L378,376 L377.7,375.7 L377.5,375.5 L377.3,375.2 L377.1,375 L376.9,374.8 L376.8,374.5 L376.7,374.3 L376.6,374 L376.5,373.8 L376.5,373.5 L376.4,373.2 L376.4,372.8 L376.3,372.4 L376.3,372 L376.3,371.5 L376.2,370.9 L376.2,370.3 L376.1,369.6 L376.1,368.9 L376,368 L375.9,367.1 L375.9,366 L375.8,365 L375.7,363.8 L375.7,362.6 L375.6,361.3 L375.6,360 L375.5,358.6 L375.5,357.2 L375.4,355.7 L375.4,354.2 L375.4,352.7 L375.3,351.1 L375.3,349.5 L375.2,348 L375.2,346.4 L375.1,344.8 L375.1,343.2 L375,341.6 L375,340 L375,338.4 L374.9,336.7 L374.9,334.9 L374.8,333.1 L374.8,331.3 L374.7,329.4 L374.7,327.5 L374.6,325.5 L374.6,323.6 L374.6,321.7 L374.5,319.8 L374.5,317.9 L374.4,316 L374.4,314.3 L374.3,312.5 L374.3,310.8 L374.2,309.2 L374.1,307.7 L374.1,306.3 L374,305 L373.9,303.8 L373.8,302.7 L373.8,301.7 L373.7,300.7 L373.6,299.8 L373.5,299 L373.5,298.2 L373.4,297.5 L373.3,296.8 L373.2,296.2 L373.1,295.6 L373,295 L372.9,294.4 L372.8,293.8 L372.7,293.2 L372.5,292.6 L372.4,292 L372.3,291.4 L372.1,290.7 L372,290 L371.8,289.3 L371.7,288.6 L371.5,287.8 L371.4,287.1 L371.2,286.4 L371,285.7 L370.9,284.9 L370.7,284.2 L370.5,283.5 L370.3,282.8 L370.1,282.1 L369.9,281.4 L369.7,280.7 L369.5,280 L369.3,279.3 L369,278.7 L368.8,278 L368.5,277.3 L368.3,276.7 L368,276 L367.7,275.4 L367.4,274.7 L367.1,274.1 L366.8,273.4 L366.5,272.8 L366.2,272.1 L365.9,271.5 L365.5,270.9 L365.2,270.2 L364.8,269.6 L364.5,269 L364.1,268.4 L363.7,267.8 L363.3,267.2 L363,266.7 L362.6,266.1 L362.2,265.6 L361.8,265 L361.4,264.5 L361,264 L360.6,263.5 L360.2,263 L359.8,262.6 L359.4,262.1 L359,261.7 L358.5,261.2 L358.1,260.8 L357.7,260.4 L357.3,260 L356.8,259.6 L356.4,259.2 L355.9,258.9 L355.5,258.5 L355,258.1 L354.5,257.8 L354,257.4 L353.5,257.1 L353,256.7 L352.5,256.4 L352,256 L351.5,255.7 L351,255.3 L350.4,255 L349.9,254.6 L349.4,254.3 L348.9,254 L348.3,253.7 L347.8,253.4 L347.2,253.1 L346.7,252.8 L346.1,252.5 L345.5,252.2 L344.9,251.9 L344.3,251.6 L343.6,251.3 L343,251.1 L342.3,250.8 L341.5,250.5 L340.8,250.3 L340,250 L339.2,249.7 L338.3,249.5 L337.4,249.2 L336.5,249 L335.6,248.7 L334.6,248.5 L333.6,248.2 L332.6,248 L331.5,247.8 L330.5,247.5 L329.4,247.3 L328.4,247.1 L327.3,246.9 L326.3,246.7 L325.2,246.5 L324.1,246.3 L323.1,246.1 L322,245.9 L321,245.7 L320,245.5 L319,245.3 L318,245.1 L317,245 L316,244.8 L315.1,244.7 L314.1,244.5 L313.1,244.3 L312.1,244.2 L311.2,244.1 L310.2,243.9 L309.2,243.8 L308.2,243.7 L307.2,243.5 L306.2,243.4 L305.2,243.3 L304.2,243.2 L303.2,243.1 L302.1,243 L301.1,242.9 L300,242.8 L298.9,242.7 L297.8,242.6 L296.7,242.6 L295.6,242.5 L294.5,242.5 L293.3,242.4 L292.2,242.4 L291,242.3 L289.9,242.3 L288.7,242.3 L287.5,242.3 L286.3,242.2 L285.2,242.2 L284,242.2 L282.8,242.2 L281.6,242.1 L280.5,242.1 L279.3,242.1 L278.2,242 L277,242Z" fill="url(#gNS)"/>
<g clip-path="url(#cNS)"><rect x="340" y="240" width="100" height="145" fill="url(#gNSs)" mask="url(#mNS)"/></g>
<path d="M315,214.7 L386,215 L456,214.7M379,212.3 L381.8,225.4 L385.4,239.9 L386,241 L386.6,239.9 L390.2,225.4 L393,212.3M362.5,212.3 L358.2,218 L356.5,221 L355.5,225.2 L356,229 L357.5,232.4 L369.2,252.7 L376.5,266.7 L380.4,275.4 L385.2,289 L386,290 L386.8,289 L391.6,275.4 L395.5,266.7 L402.8,252.7 L414.5,232.4 L416,229 L416.5,225.2 L415.5,221 L413.8,218 L409.5,212.3M383.5,284 L382.5,299.2 L382.5,314.8 L383,319.6 L384,325.1 L385.1,328.8 L386,330 L386.9,328.8 L388,325.1 L389,319.6 L389.5,314.8 L389.5,299.2 L388.5,284M346.7,212.3 L339.3,221.6 L337,226 L336.7,227.5 L336.8,229.1 L337.4,230.9 L338.9,233.2 L354.8,251 L361.8,260.6 L365.2,266.4 L368,272 L371.9,281.3 L374.3,288.3 L376.3,296.5 L378,305.8 L380.2,325.8 L381.1,343.9 L381.5,380M425.3,212.3 L432.7,221.6 L435,226 L435.3,227.5 L435.2,229.1 L434.6,230.9 L433.1,233.2 L417.2,251 L410.2,260.6 L406.8,266.4 L404,272 L400.1,281.3 L397.7,288.3 L395.7,296.5 L394,305.8 L391.8,325.8 L390.9,343.9 L390.5,380M310,219.2 L338.8,219.2 L350.4,219.5 L356,220.1 L360.3,221.2 L363.2,222.7 L365.7,225.5 L367.5,228.9 L372.9,246.6 L376.2,260.4 L377.9,270.9 L379.4,286.7 L380,304.2 L379,330 L378.5,380M462,219.2 L433.2,219.2 L421.6,219.5 L416,220.1 L411.7,221.2 L408.8,222.7 L406.3,225.5 L404.5,228.9 L399.1,246.6 L395.8,260.4 L394.1,270.9 L392.6,286.7 L392,304.2 L393,330 L393.5,380M302,224.3 L335.7,224.3 L344.1,224.9 L347.8,225.5 L349.4,226.2 L352,228 L355,230.9 L358.2,235.2 L362.1,242.1 L364.8,248.7 L370.4,265.2 L372.9,277 L374,284.5 L374.8,295 L375.3,309.2 L376.5,380M470,224.3 L436.3,224.3 L427.9,224.9 L424.2,225.5 L422.6,226.2 L420,228 L417,230.9 L413.8,235.2 L409.9,242.1 L407.2,248.7 L401.6,265.2 L399.1,277 L398,284.5 L397.2,295 L396.7,309.2 L395.5,380M292,230.2 L325.5,233.3 L334.7,235 L340.5,236.8 L346,240 L349.3,243.1 L351.9,246.8 L358.3,257.6 L361.7,265.1 L365.4,277.6 L368,290 L370.8,308.4 L372.4,323.3 L373.4,337 L374.5,380M480,230.2 L446.5,233.3 L437.3,235 L431.5,236.8 L426,240 L422.7,243.1 L420.1,246.8 L413.7,257.6 L410.3,265.1 L406.6,277.6 L404,290 L401.2,308.4 L399.6,323.3 L398.6,337 L397.5,380M327,212.3 L316.7,226.5 L316,228.4 L316.3,229.7 L317.8,231 L322.6,233.3 L332.3,237.1 L336.5,239.1 L341.4,242.6 L345.6,246.7 L351,253.4 L355.7,261 L360.9,272.7 L364.1,281.9 L366,290 L368.2,302.3 L371.1,325.5 L372.2,344.3 L373,380M445,212.3 L455.3,226.5 L456,228.4 L455.7,229.7 L454.2,231 L449.4,233.3 L439.7,237.1 L435.5,239.1 L430.6,242.6 L426.4,246.7 L421,253.4 L416.3,261 L411.1,272.7 L407.9,281.9 L406,290 L403.8,302.3 L400.9,325.5 L399.8,344.3 L399,380M307,212.3 L448,212.3" fill="none" stroke="#d5dcee" stroke-width="1.75" stroke-linecap="round" clip-path="url(#cNS)"/>
<circle cx="387.8" cy="371" r="11.3" fill="url(#ball)"/>
<text x="430.6" y="272.4">Neutron Star</text>
<text x="210.4" y="330.4">Distorted spacetime</text>
<path d="M362,289.6 L357.5,289.6 Q354,289.6 354,293.5 L354,322 Q354,326.3 349.5,326.3 L346.5,326.3 L349.5,326.3 Q354,326.3 354,330.5 L354,361.5 Q354,365.3 357.5,365.3 L362,365.3" fill="none" stroke="#222" stroke-width="1.6"/>
<path d="M349,554 L349.6,556.3 L350.3,558.6 L351,560.9 L351.7,563.1 L352.4,565.4 L353,567.7 L353.7,569.9 L354.4,572.2 L355.1,574.5 L355.8,576.8 L356.5,579 L357.2,581.3 L357.8,583.6 L358.4,585.9 L359.1,588.2 L359.7,590.5 L360.2,592.9 L360.8,595.2 L361.3,597.6 L361.8,600 L362.3,602.4 L362.7,604.8 L363.1,607.3 L363.5,609.7 L363.9,612.2 L364.3,614.7 L364.6,617.2 L364.9,619.7 L365.2,622.2 L365.5,624.8 L365.8,627.3 L366.1,629.8 L366.3,632.3 L366.6,634.9 L366.8,637.4 L367.1,639.9 L367.3,642.5 L367.5,645 L367.8,647.5 L368,650 L368.2,652.5 L368.4,655 L368.6,657.6 L368.8,660.2 L369,662.7 L369.1,665.3 L369.3,667.9 L369.4,670.5 L369.6,673.1 L369.7,675.6 L369.8,678.2 L370,680.7 L370.1,683.2 L370.2,685.7 L370.3,688.2 L370.4,690.6 L370.5,693 L370.6,695.4 L370.7,697.7 L370.8,700 L370.9,702.2 L371,704.4 L371.1,706.5 L371.1,708.6 L371.2,710.7 L371.3,712.7 L371.3,714.7 L371.4,716.7 L371.4,718.7 L371.5,720.6 L371.5,722.6 L371.6,724.5 L371.6,726.4 L371.7,728.3 L371.7,730.2 L371.8,732.2 L371.8,734.1 L371.9,736 L371.9,738 L372,740 L376,743 L384,745 L393,745.5 L402,745 L410,743 L414,740 L414.1,738 L414.2,736 L414.2,734.1 L414.3,732.2 L414.4,730.2 L414.5,728.3 L414.5,726.4 L414.6,724.5 L414.7,722.6 L414.8,720.6 L414.8,718.7 L414.9,716.7 L415,714.7 L415.1,712.7 L415.1,710.7 L415.2,708.6 L415.3,706.5 L415.4,704.4 L415.5,702.2 L415.6,700 L415.7,697.7 L415.8,695.4 L415.9,693 L416,690.6 L416.1,688.2 L416.2,685.7 L416.3,683.2 L416.4,680.7 L416.5,678.2 L416.6,675.6 L416.8,673.1 L416.9,670.5 L417,667.9 L417.1,665.3 L417.3,662.7 L417.4,660.2 L417.5,657.6 L417.7,655 L417.8,652.5 L418,650 L418.2,647.5 L418.3,645 L418.5,642.5 L418.6,639.9 L418.8,637.4 L419,634.9 L419.1,632.3 L419.3,629.8 L419.5,627.3 L419.7,624.8 L419.9,622.2 L420.1,619.7 L420.3,617.2 L420.5,614.7 L420.7,612.2 L420.9,609.7 L421.2,607.3 L421.4,604.8 L421.7,602.4 L422,600 L422.3,597.6 L422.6,595.2 L423,592.9 L423.3,590.5 L423.7,588.2 L424,585.9 L424.4,583.6 L424.8,581.3 L425.2,579 L425.6,576.8 L426,574.5 L426.4,572.2 L426.9,569.9 L427.3,567.7 L427.7,565.4 L428.1,563.1 L428.5,560.9 L428.9,558.6 L429.3,556.3 L429.7,554Z" fill="url(#gTube)"/>
<path d="M349,554 L349.6,556.3 L350.3,558.6 L351,560.9 L351.7,563.1 L352.4,565.4 L353,567.7 L353.7,569.9 L354.4,572.2 L355.1,574.5 L355.8,576.8 L356.5,579 L357.2,581.3 L357.8,583.6 L358.4,585.9 L359.1,588.2 L359.7,590.5 L360.2,592.9 L360.8,595.2 L361.3,597.6 L361.8,600 L362.3,602.4 L362.7,604.8 L363.1,607.3 L363.5,609.7 L363.9,612.2 L364.3,614.7 L364.6,617.2 L364.9,619.7 L365.2,622.2 L365.5,624.8 L365.8,627.3 L366.1,629.8 L366.3,632.3 L366.6,634.9 L366.8,637.4 L367.1,639.9 L367.3,642.5 L367.5,645 L367.8,647.5 L368,650 L368.2,652.5 L368.4,655 L368.6,657.6 L368.8,660.2 L369,662.7 L369.1,665.3 L369.3,667.9 L369.4,670.5 L369.6,673.1 L369.7,675.6 L369.8,678.2 L370,680.7 L370.1,683.2 L370.2,685.7 L370.3,688.2 L370.4,690.6 L370.5,693 L370.6,695.4 L370.7,697.7 L370.8,700 L370.9,702.2 L371,704.4 L371.1,706.5 L371.1,708.6 L371.2,710.7 L371.3,712.7 L371.3,714.7 L371.4,716.7 L371.4,718.7 L371.5,720.6 L371.5,722.6 L371.6,724.5 L371.6,726.4 L371.7,728.3 L371.7,730.2 L371.8,732.2 L371.8,734.1 L371.9,736 L371.9,738 L372,740 L376,743 L384,745 L393,745.5 L402,745 L410,743 L414,740 L414.1,738 L414.2,736 L414.2,734.1 L414.3,732.2 L414.4,730.2 L414.5,728.3 L414.5,726.4 L414.6,724.5 L414.7,722.6 L414.8,720.6 L414.8,718.7 L414.9,716.7 L415,714.7 L415.1,712.7 L415.1,710.7 L415.2,708.6 L415.3,706.5 L415.4,704.4 L415.5,702.2 L415.6,700 L415.7,697.7 L415.8,695.4 L415.9,693 L416,690.6 L416.1,688.2 L416.2,685.7 L416.3,683.2 L416.4,680.7 L416.5,678.2 L416.6,675.6 L416.8,673.1 L416.9,670.5 L417,667.9 L417.1,665.3 L417.3,662.7 L417.4,660.2 L417.5,657.6 L417.7,655 L417.8,652.5 L418,650 L418.2,647.5 L418.3,645 L418.5,642.5 L418.6,639.9 L418.8,637.4 L419,634.9 L419.1,632.3 L419.3,629.8 L419.5,627.3 L419.7,624.8 L419.9,622.2 L420.1,619.7 L420.3,617.2 L420.5,614.7 L420.7,612.2 L420.9,609.7 L421.2,607.3 L421.4,604.8 L421.7,602.4 L422,600 L422.3,597.6 L422.6,595.2 L423,592.9 L423.3,590.5 L423.7,588.2 L424,585.9 L424.4,583.6 L424.8,581.3 L425.2,579 L425.6,576.8 L426,574.5 L426.4,572.2 L426.9,569.9 L427.3,567.7 L427.7,565.4 L428.1,563.1 L428.5,560.9 L428.9,558.6 L429.3,556.3 L429.7,554Z" fill="url(#gTubeH)"/>
<path d="M356.3,554 L363.8,581.9 L367,595.9 L369.4,609.9 L371.5,627.3 L373.9,655.3 L375.4,679.7 L376.9,718.1 L377.6,760M365.1,554 L371,578.4 L374,592.4 L376.7,609.9 L378.7,627.3 L381,655.3 L382.4,679.7 L383.8,714.6 L385.1,760M378.1,554 L384.2,592.4 L386.1,609.9 L387.5,627.3 L390,676.2 L392.2,760M403.1,554 L403.3,669.2 L403.1,739.1 L403.4,760M416,554 L412.9,595.9 L411.8,620.3 L410.8,662.2 L409.4,739.1 L409.7,760M424.9,554 L419.5,595.9 L417.5,623.8 L415.8,662.2 L414.3,714.6 L413.6,739.1 L413.8,760M424.1,542.3 L425.9,546.4 L426.4,550 L425.7,553.7 L424,557.3 L420.2,561.7 L414.8,566.1 L414.2,566.5 L413.6,566.9 L411.8,568.1 L408.7,569.9 L402.3,572.8 L396.4,574.7 L390.6,575.6 L384.9,575.7 L377.1,574.8 L370.4,573.3 L365.3,571.2 L362.3,568.8 L361.6,567.6 L361.5,566.2 L362.5,564.3 L364.9,562.4 L368.4,560.8 L373.6,559.3 L379.7,558.2 L386.5,557.7 L391,557.8 L395.6,558.5 L400.1,559.6 L404.4,561.3 L409.1,563.7 L412.9,566.1 L413.4,566.5 L413.9,566.9 L414.8,567.7 L416.2,568.9 L418.8,572 L420.8,575.2 L421.7,578.1 L422,581.5 L421.3,585.4 L419.7,588.7 L417.1,592.3 L413.3,596.1 L412.4,596.9 L411.9,597.3 L411.4,597.7 L409,599.4 L404.4,602.2 L399.6,604.3 L394.8,605.6 L390.6,606.1 L385,605.7 L379.3,604.7 L374.6,603.2 L371,601.3 L369,599.1 L368.5,598 L368.5,596.8 L369.4,594.9 L371.3,593.1 L374.3,591.5 L378.1,590.2 L383,589.1 L388.5,588.6 L392.2,588.6 L395.9,589.2 L399.6,590.2 L403.2,591.6 L407.2,593.8 L410.3,596 L411.2,596.7 L411.6,597.1 L412,597.5 L413.1,598.6 L415.5,601.3 L417.2,604.3 L418.3,607.4 L418.6,610.5 L418.1,614.1 L416.8,617.2 L414.6,620.5 L411.4,624 L411,624.4 L410.6,624.7 L409.8,625.4 L407.7,627 L403.7,629.6 L399.5,631.4 L395.2,632.6 L391.5,633 L386.5,632.7 L381.5,631.7 L377.3,630.2 L374.2,628.4 L372.4,626.2 L372,624 L372.7,622.3 L374.3,620.6 L376.9,619 L380.2,617.7 L384.5,616.6 L389,616.1 L392.7,616 L396,616.4 L399.3,617.2 L402.9,618.6 L406.4,620.5 L409.3,622.4 L410.8,623.7 L411.1,624 L411.5,624.3 L412.2,625 L414.2,627.4 L415.8,630 L416.6,632.3 L417,635 L416.5,638.1 L415.1,641.2 L413,644 L411.8,645.4 L411.5,645.7 L411.1,646 L410,647 L406.6,649.6 L402.8,651.7 L398.9,653.2 L394.9,654.1 L391.4,654.3 L386.4,653.8 L381.8,652.8 L378.1,651.3 L375.6,649.6 L374,647.5 L373.7,645.4 L374.4,643.8 L376,642.1 L378.1,640.7 L381.1,639.4 L384.8,638.5 L388.8,637.8 L392.3,637.7 L395.8,638 L398.9,638.7 L402.3,640 L408.3,643.4 L411.1,645.7 L411.4,646 L411.7,646.4 L412.3,647 L413.1,648 L414.6,650.4 L415.4,652.5 L415.8,655.4 L415.5,657.9 L414.3,660.7 L412.4,663.4 L411.2,664.7 L410.6,665.3 L410.3,665.6 L409.6,666.2 L406.4,668.6 L402.4,670.8 L398.7,672.2 L394.9,673 L391.2,673.1 L386.4,672.6 L382.2,671.5 L378.7,670 L376.5,668.3 L375.1,666.2 L375,664.2 L375.7,662.7 L377.3,661 L379.4,659.7 L382.4,658.4 L385.9,657.5 L389.8,657 L393,656.9 L396,657.2 L401.7,659.2 L407.5,662.7 L409.8,664.8 L410.4,665.4 L410.7,665.7 L411,666.1 L411.8,667.1 L413.4,669.5 L414.3,671.7 L414.9,674.7 L414.7,677.3 L413.8,680.3 L412.1,683.1 L411.1,684.5 L410.5,685.1 L410.2,685.5 L409.9,685.8 L409.6,686.1 L406.5,688.7 L402.8,691.1 L399.2,692.6 L395.6,693.6 L392,694 L387.4,693.5 L383.3,692.5 L379.9,691.1 L377.4,689.3 L376,687.3 L375.8,685.2 L376.5,683.7 L377.9,682.2 L379.9,680.9 L382.4,679.8 L388.9,678.3 L392,678 L395.2,678.3 L400.8,679.9 L406,682.8 L408.4,684.6 L409.6,685.8 L409.9,686.1 L410.2,686.4 L410.4,686.7 L413.2,691 L414,693.8 L414.1,696.6 L413.3,699.4 L411.8,702.1 L409.5,704.9 L408.9,705.5 L408.6,705.8 L408.3,706.1 L408,706.4 L406.3,707.7 L402.7,709.9 L398.9,711.6 L395.5,712.5 L392,712.8 L387.6,712.3 L383.3,711.3 L379.8,709.7 L377.6,707.9 L376.5,705.9 L376.6,703.8 L377.3,702.5 L378.7,701.1 L382.8,698.9 L388.8,697.5 L394.1,697.4 L398.3,698.5 L402.8,700.9 L406.9,704.3 L407.9,705.3 L408.2,705.6 L408.5,706 L408.8,706.3 L410.1,708.1 L412.2,712 L413.1,715.7 L413.2,719.4 L412.1,723.5 L410.1,727.4 L406.9,731.2 L402.9,734.6 L398.9,736.9" fill="none" stroke="#d5dcee" stroke-width="1.75" stroke-linecap="round" clip-path="url(#cTube)"/>
<path d="M286,403 L491,403 L609,554 L178,554 Z" fill="url(#gBH)"/>
<path d="M286,403 L491,403 L609,554 L178,554 Z" fill="url(#gBH2)"/>
<path d="M170,410.5 L620,407M170,424.2 L620,421.6M170,439.2 L620,435M170,491 L620,485M170,514 L620,507.6M170,545.5 L620,538M170,461.8 L312,461.5M448,469 L468.6,463.9 L485.7,460.2 L493.5,458.9 L501.6,458.2 L511.2,457.8 L536.2,457.5 L620,457M400,416 L620,415.5M250.6,462 L182.6,562M261.5,462 L199,562M311,395 L216.5,562M292.7,439 L227.8,562M290.8,462 L243.2,562M310.7,439 L258.6,562M339.7,395 L282.2,562M323.1,470 L295.6,562M336.2,490 L320.8,562M434,403 L537,556M452,438 L544,556M469,403 L597,556M281.3,468.4 L279.3,463.8 L278.1,457.9 L278.2,453.2 L279.6,447.4 L282.5,441.6 L285.8,437.2 L291.2,431.9 L297.9,427 L304.1,423.4 L312.8,419.3 L322.5,415.8 L330.8,413.4 L341.8,411 L353.3,409.3 L365.2,408.3 L374.8,408 L386.8,408.3 L398.7,409.3 L410.2,411 L419.1,412.9 L429.5,415.8 L439.2,419.3 L446.3,422.5 L454.1,427 L460.8,431.9 L466.2,437.2 L470.2,442.8 L472.4,447.4 L473.8,453.2 L473.9,457.9 L473.1,462.6 L470.7,468.4M303.2,467.1 L302.3,463.3 L302.1,458.5 L302.9,453.7 L304.4,450 L307.2,445.4 L311.1,441 L315.9,436.9 L320.4,433.8 L326.8,430.3 L332.5,427.8 L340.1,425.1 L348.4,422.8 L355.3,421.3 L364.3,420 L373.6,419.2 L381.1,419 L390.4,419.2 L399.7,420 L408.7,421.3 L415.6,422.8 L423.9,425.1 L431.5,427.8 L437.2,430.3 L443.6,433.8 L449.1,437.7 L453.8,441.9 L456.8,445.4 L459.6,450 L461.3,454.7 L461.9,458.5 L461.7,463.3 L460.8,467.1M452,470 L484.5,464.6 L491.6,463.9 L498,463.8 L505.6,464.8 L512.1,466.4 L518,468.8 L523.5,472.2 L528.7,476.7 L532.6,481 L537.4,488.2 L542,496.5 L547.2,507.5 L555.3,525.7 L566,556M178,552 L300,537 L368.4,527.3 L396,524.5 L424,522.5 L464,520.9 L504.5,521 L554.9,522.6 L612,526M425,530 L424.2,532.3 L422.3,534.1 L418.6,536.1 L414.6,537.6 L409.8,538.8 L402.9,540 L395.3,540.7 L387.4,541 L379.4,540.8 L371.8,540.1 L364.9,538.9 L360,537.7 L355,535.9 L352,534.3 L349.7,532.1 L349,530.2 L349.4,528.4 L351.4,526.1 L355,524.1 L360,522.3 L364.9,521.1 L371.8,519.9 L379.4,519.2 L387.4,519 L395.3,519.3 L402.9,520 L409.8,521.2 L414.6,522.4 L418.6,523.9 L422.3,525.9 L424.5,528.2 L425,530M338,403 L328.7,419.6 L321.3,434.3 L318.9,440.3 L318,445 L318.1,447.8 L318.9,451.4 L320.2,454.9 L322.7,459.7 L326.2,465.4 L334,474M370,403 L364.4,422.9 L362.4,433.6 L361.8,439.3 L362,445 L362.7,450.4 L368,475" fill="none" stroke="#d5dcee" stroke-width="1.75" stroke-linecap="round" clip-path="url(#cBH)"/>
<ellipse cx="382.5" cy="473" rx="69" ry="30" fill="url(#gRim)"/>
<path d="M318,474 A64.5,26 0 1,0 447,474 A64.5,26 0 1,0 318,474 Z" fill="url(#gHole)"/>
<path d="M327.7,458.3 L328.2,465.3 L329.1,469.2 L332.3,477.6 L335.8,485.2 L338.6,490 L341.1,493.3 L352.3,505M342.5,451.6 L343.2,467.2 L344.4,473 L346.6,480.2 L349.3,487.3 L351.8,492.5 L360.5,505M358,448 L358.4,466.8 L360.1,478.4 L363.4,491.7 L369,505M407,448 L406.6,466.8 L404.9,478.4 L401.6,491.7 L396,505M422.5,451.6 L421.8,467.2 L420.6,473 L418.4,480.2 L415.7,487.3 L413.2,492.5 L404.5,505M437.3,458.3 L436.8,465.3 L435.9,469.2 L432.7,477.6 L429.2,485.2 L426.4,490 L423.9,493.3 L412.7,505" fill="none" stroke="#d5dcee" stroke-width="1.75" stroke-linecap="round" clip-path="url(#cHole)"/>
<path d="M367,412 L369.5,426.2 L372.3,436 L374.9,443.3 L378.9,451.8 L382.6,458.6 L385.4,462 L386.5,462.7 L387.5,463 L388.5,462.7 L389.5,462 L392,458.6 L394.9,452.8 L398.8,443.3 L401.1,436 L403.2,427.1 L404,422.1 L405,412" fill="none" stroke="#d5dcee" stroke-width="1.75" stroke-linecap="round" clip-path="url(#cBH)"/>
<path d="M460,470 L459.4,474.2 L458.3,476.9 L456.7,479.6 L454.6,482.2 L450.5,486 L447.1,488.4 L439.1,492.7 L429.6,496.4 L415.8,500 L400.7,502.2 L384.8,503 L368.9,502.3 L353.6,500.2 L339.7,496.8 L330,493.2 L321.8,488.9 L318.3,486.6 L314,482.9 L311.8,480.3 L310,477.6 L308.8,474.9 L308,470.7 L308.4,466.5 L309.4,463.8 L310.8,461.1 L312.8,458.4 L315.3,455.9 L318.3,453.4 L321.8,451.1 L327.8,447.8 L332.3,445.8 L339.7,443.2 L353.6,439.8 L365.8,438 L381.6,437 L397.5,437.5 L412.9,439.5 L424.3,442 L429.6,443.6 L436.9,446.3 L445.3,450.5 L448.9,452.8 L453.3,456.5 L456.7,460.4 L458.3,463.1 L459.4,465.8 L460,470" fill="none" stroke="#d5dcee" stroke-width="1.75" stroke-linecap="round" clip-path="url(#cBH)"/>
<ellipse cx="393" cy="647" rx="25.8" ry="8.5" fill="none" stroke="#111" stroke-width="2.5"/>
<text x="484" y="581.2">Black Hole</text>
<text x="424.5" y="649.5">Event Horizon</text>
<text x="359" y="765.5">Singularity</text>
</svg>
</body></html>
